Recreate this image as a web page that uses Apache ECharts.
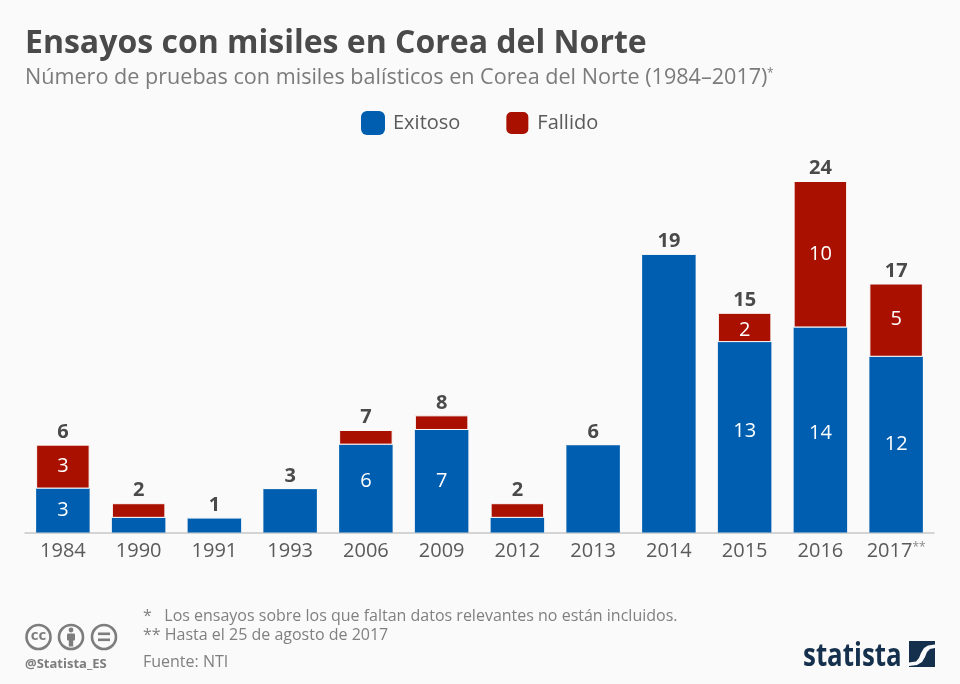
<!DOCTYPE html>
<html>
<head>
<meta charset="utf-8">
<style>html,body{margin:0;padding:0;background:#fafafa}#main{width:960px;height:684px}</style>
<script src="https://cdn.jsdelivr.net/npm/echarts@6/dist/echarts.min.js"></script>
</head>
<body>
<div id="main"></div>
<script>
var years = ['1984','1990','1991','1993','2006','2009','2012','2013','2014','2015','2016','2017'];
var exitoso = [3,1,1,3,6,7,1,6,19,13,14,12];
var fallido = [3,1,0,0,1,1,1,0,0,2,10,5];
var totales = [6,2,1,3,7,8,2,6,19,15,24,17];

var FONT = '"Open Sans"';
var TXT = '#4a4a4a', GRIS = '#7b7b7b', NOTA = '#808080', NAVY = '#14304d';

// the original labels are not quite centred in a few bars
var shiftExitoso = {4: -7, 9: -6, 10: 3};
var shiftFallido = {9: 3, 11: -1};

function ccIcon(cx, inner) {
  return [{type:'circle',shape:{cx:cx,cy:637,r:12},style:{fill:'none',stroke:'#7d7d7d',lineWidth:2.6}}].concat(inner);
}

var chart = echarts.init(document.getElementById('main'), null, {renderer:'canvas'});
chart.setOption({
  backgroundColor: '#fafafa',
  animation: false,
  textStyle: {fontFamily: FONT},
  legend: {
    data: ['Exitoso','Fallido'],
    left: 356, top: 105,
    itemWidth: 24, itemHeight: 24, itemGap: 44,
    textStyle: {fontFamily: FONT, fontSize: 20, color: '#5a5a5a', padding: [0,0,0,3]},
    itemStyle: {borderRadius: 2}
  },
  grid: {left: 25, right: 26, top: 181, height: 351.5},
  xAxis: {
    type: 'category',
    data: years,
    axisTick: {show: false},
    axisLine: {lineStyle: {color: '#c8c8c8', width: 1.5}},
    axisLabel: {
      interval: 0,
      margin: 9,
      fontFamily: FONT, fontSize: 20, color: '#5a5a5a',
      formatter: function (v) { return v === '2017' ? v + '{s|**}' : v; },
      rich: {s: {fontFamily: FONT, fontSize: 12, color: '#8a8a8a', verticalAlign: 'top', padding: [0,0,8,0]}}
    }
  },
  yAxis: {type: 'value', min: 0, max: 24, show: false},
  series: [
    {
      name: 'Exitoso', type: 'bar', stack: 'a', barWidth: 53.5, data: exitoso,
      itemStyle: {color: '#005eb0'},
      label: {
        show: true, position: 'inside', color: '#fff', fontFamily: FONT, fontSize: 20,
        formatter: function (p) { return (fallido[p.dataIndex] > 0 && p.value > 1) ? p.value : ''; }
      },
      labelLayout: function (p) { return {dy: shiftExitoso[p.dataIndex] || 0}; }
    },
    {
      name: 'Fallido', type: 'bar', stack: 'a', barWidth: 53.5, data: fallido,
      itemStyle: {color: '#a91000', borderColor: '#fafafa', borderWidth: 1},
      label: {
        show: true, position: 'inside', color: '#fff', fontFamily: FONT, fontSize: 20,
        formatter: function (p) { return p.value > 1 ? p.value : ''; }
      },
      labelLayout: function (p) { return {dy: shiftFallido[p.dataIndex] || 0}; }
    },
    {
      name: 'Total', type: 'line', data: totales, silent: true,
      symbol: 'circle', symbolSize: 1, showAllSymbol: true,
      itemStyle: {color: 'rgba(0,0,0,0)'},
      lineStyle: {width: 0, color: 'rgba(0,0,0,0)'},
      label: {show: true, position: 'top', distance: 2, color: TXT, fontFamily: FONT, fontSize: 20, fontWeight: 'bold'}
    }
  ],
  graphic: [
    {type:'text',left:25,top:28,style:{text:'Ensayos con misiles en Corea del Norte',fontFamily:FONT,fontSize:32,fontWeight:'bold',fill:TXT}},
    {type:'text',left:25,top:67,style:{text:'Número de pruebas con misiles balísticos en Corea del Norte (1984–2017)',fontFamily:FONT,fontSize:21.6,fill:GRIS}},
    {type:'text',left:767,top:68,style:{text:'*',fontFamily:FONT,fontSize:12,fill:GRIS}},
    {type:'text',left:143,top:608,style:{text:'*   Los ensayos sobre los que faltan datos relevantes no están incluidos.',fontFamily:FONT,fontSize:16,fill:NOTA}},
    {type:'text',left:143,top:627,style:{text:'** Hasta el 25 de agosto de 2017',fontFamily:FONT,fontSize:16,fill:NOTA}},
    {type:'text',left:143,top:654,style:{text:'Fuente: NTI',fontFamily:FONT,fontSize:16,fill:NOTA}},
    {type:'text',left:25,top:658,style:{text:'@Statista_ES',fontFamily:FONT,fontSize:13,fontWeight:'bold',fill:'#7d7d7d'}},
    {type:'group',silent:true,children:
      ccIcon(38.5,[
        {type:'text',style:{text:'cc',x:38.5,y:636,align:'center',verticalAlign:'middle',fontFamily:FONT,fontSize:15,fontWeight:'bold',fill:'#7d7d7d'}}
      ]).concat(ccIcon(71,[
        {type:'circle',shape:{cx:71,cy:630,r:2.4},style:{fill:'#7d7d7d'}},
        {type:'rect',shape:{x:67,y:633.5,width:8,height:7,r:1},style:{fill:'#7d7d7d'}},
        {type:'rect',shape:{x:68.8,y:640,width:4.4,height:6.5},style:{fill:'#7d7d7d'}}
      ])).concat(ccIcon(104,[
        {type:'rect',shape:{x:98,y:632.5,width:12,height:2.6},style:{fill:'#7d7d7d'}},
        {type:'rect',shape:{x:98,y:638.5,width:12,height:2.6},style:{fill:'#7d7d7d'}}
      ]))
    },
    {type:'text',x:803,y:640,scaleX:0.785,style:{text:'statista',fontFamily:FONT,fontSize:33,fontWeight:'bold',fill:NAVY}},
    {type:'group',silent:true,children:[
      {type:'rect',shape:{x:909,y:641,width:26,height:26},style:{fill:NAVY}},
      {type:'polygon',shape:{points:[[909,662.5],[916,661.5],[919,658],[921,653],[924,648],[928,645.5],[935,644.5],[935,648],[930,649],[927,652],[925,657],[922,662],[917,665],[909,666]]},style:{fill:'#fafafa'}}
    ]}
  ]
});
</script>
</body>
</html>
